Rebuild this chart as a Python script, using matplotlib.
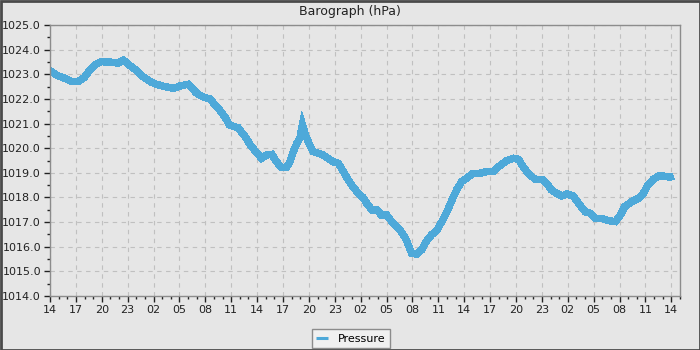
import matplotlib
matplotlib.use("Agg")
import matplotlib.pyplot as plt
import matplotlib.dates as mdates
from matplotlib.patches import Rectangle
import pandas as pd

# readings: hours after the first sample (14:00) and pressure in hPa
hours = [0.0, 0.9, 1.7, 2.5, 3.25, 4.0, 4.6, 5.2, 5.95, 7.1, 7.9, 8.5, 9.25, 10.0,
         10.8, 11.75, 12.35, 13.3, 14.3, 15.2, 16.0, 17.0, 17.7, 18.5, 19.5, 20.25,
         20.8, 21.8, 22.6, 23.35, 24.0, 24.5, 25.1, 25.7, 26.25, 26.8, 27.4, 27.8,
         28.2, 28.6, 28.95, 29.25, 29.6, 30.0, 30.5, 31.1, 31.65, 32.2, 32.8, 33.4,
         34.0, 34.55, 35.1, 35.7, 36.3, 36.7, 37.3, 37.85, 38.4, 39.0, 39.6, 40.2,
         40.7, 41.3, 41.9, 42.5, 43.05, 43.6, 44.2, 44.8, 45.4, 46.0, 46.5, 47.1,
         47.7, 48.3, 49.0, 49.8, 50.6, 51.35, 52.1, 52.9, 53.7, 54.3, 54.8, 55.4,
         56.2, 57.0, 57.55, 58.1, 58.7, 59.3, 59.9, 60.6, 61.2, 62.0, 62.6, 63.2,
         63.9, 64.7, 65.5, 66.1, 66.6, 67.4, 68.2, 68.75, 69.3, 69.9, 70.5, 71.1,
         71.85, 72.2]
pressure = [1023.15, 1022.94, 1022.84, 1022.70, 1022.70, 1022.88, 1023.17, 1023.38,
            1023.51, 1023.49, 1023.45, 1023.58, 1023.35, 1023.17, 1022.90, 1022.68,
            1022.59, 1022.50, 1022.43, 1022.54, 1022.59, 1022.23, 1022.09, 1022.00,
            1021.62, 1021.28, 1020.94, 1020.83, 1020.47, 1020.06, 1019.80, 1019.59,
            1019.72, 1019.75, 1019.45, 1019.21, 1019.21, 1019.45, 1019.86, 1020.20,
            1020.40, 1020.95, 1020.54, 1020.20, 1019.86, 1019.79, 1019.72, 1019.59,
            1019.45, 1019.39, 1019.05, 1018.71, 1018.44, 1018.17, 1017.99, 1017.76,
            1017.49, 1017.49, 1017.29, 1017.29, 1017.02, 1016.81, 1016.61, 1016.27,
            1015.73, 1015.70, 1015.87, 1016.21, 1016.48, 1016.65, 1017.02, 1017.42,
            1017.83, 1018.30, 1018.64, 1018.78, 1018.98, 1018.98, 1019.05, 1019.05,
            1019.28, 1019.49, 1019.59, 1019.55, 1019.25, 1018.98, 1018.74, 1018.74,
            1018.57, 1018.30, 1018.17, 1018.06, 1018.14, 1018.06, 1017.79, 1017.42,
            1017.36, 1017.15, 1017.15, 1017.06, 1017.02, 1017.29, 1017.63, 1017.83,
            1017.97, 1018.17, 1018.51, 1018.74, 1018.87, 1018.87, 1018.82, 1018.87]

start = pd.Timestamp("2024-01-01 14:00")
times = start + pd.to_timedelta(hours, unit="h")

bg = "#e6e6e6"
fig = plt.figure(figsize=(7, 3.5), dpi=100, facecolor=bg)
ax = fig.add_axes([50 / 700, 1 - 296 / 350, 630 / 700, 271 / 350], facecolor=bg)

ax.plot(times, pressure, color="#4ea9d9", lw=4.6, solid_joinstyle="miter",
        solid_capstyle="butt", antialiased=False, label="Pressure")

ax.set_xlim(start, start + pd.Timedelta(hours=73))
ax.set_ylim(1014, 1025)

ax.xaxis.set_major_locator(mdates.HourLocator(byhour=[2, 5, 8, 11, 14, 17, 20, 23]))
ax.xaxis.set_minor_locator(mdates.HourLocator())
ax.xaxis.set_major_formatter(mdates.DateFormatter("%H"))
ax.yaxis.set_major_locator(plt.MultipleLocator(1.0))
ax.yaxis.set_minor_locator(plt.MultipleLocator(0.5))
ax.yaxis.set_major_formatter(plt.FormatStrFormatter("%.1f"))

ax.tick_params(which="major", length=4.5, width=1, color="#222222",
               labelsize=8, labelcolor="#222222", pad=2)
ax.tick_params(which="minor", length=2.5, width=1, color="#222222")

ax.grid(True, which="major", color="#c0c0c0", linestyle=(0, (4, 4)), lw=0.8)
for s in ax.spines.values():
    s.set_color("#8c8c8c")
    s.set_linewidth(1)

fig.text(0.5, 1 - 12 / 350, "Barograph (hPa)", ha="center", va="center",
         fontsize=9, color="#222222")

leg = fig.legend(loc="center", bbox_to_anchor=(351 / 700, 1 - 338.5 / 350),
                 fontsize=8, frameon=True, fancybox=False, handlelength=1.1,
                 handletextpad=0.9, borderpad=0.4, borderaxespad=0)
leg.get_lines()[0].set_linewidth(2.2)
leg.get_frame().set_facecolor("#f0f0f0")
leg.get_frame().set_edgecolor("#8c8c8c")
leg.get_frame().set_linewidth(1)
leg.get_frame().set_alpha(1)

# outer border of the picture
fig.patches.append(Rectangle((0.5 / 700, 0.5 / 350), 699 / 700, 349 / 350,
                             transform=fig.transFigure, fill=False,
                             edgecolor="#4a4a4a", lw=2, zorder=10))

fig.savefig("out.png", dpi=100, facecolor=bg)
